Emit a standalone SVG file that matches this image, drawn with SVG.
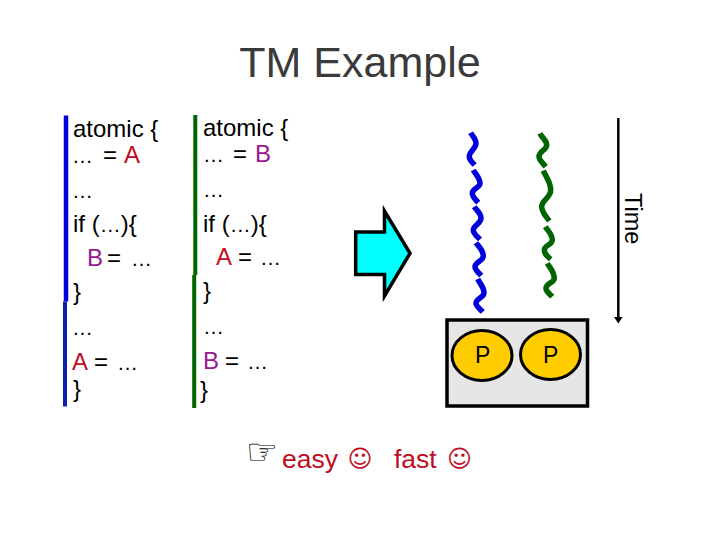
<svg xmlns="http://www.w3.org/2000/svg" width="720" height="540" viewBox="0 0 720 540">
<style>
text{font-family:"Liberation Sans",Arial,sans-serif;fill:#000}
.c{font-size:24px}
.d{font-size:21px}
.r{fill:#c00d1e}
.m{fill:#99188f}
.w{fill:none;stroke-width:5.5}
.b{stroke:#0000dd}
.g{stroke:#006400}
.s{font-family:"DejaVu Sans",sans-serif;font-size:24px;fill:#c00d1e}
.e{font-size:26.500px;fill:#c00d1e}
.p{font-size:23px;text-anchor:middle}
.n{fill:#ffcc00;stroke:#000;stroke-width:3}
</style>
<rect width="720" height="540" fill="#fff"/>
<text id="title" x="360" y="77" text-anchor="middle" font-size="43" style="fill:#3a3a3a">TM Example</text>
<g id="left-code">
<path d="M66 115.500V301.500" stroke="#0000dd" stroke-width="4.500"/>
<path d="M65 301.500V406.500" stroke="#0a1fb0" stroke-width="4"/>
<text class="c" x="73" y="137">atomic {</text>
<text class="c" y="163"><tspan class="d" x="72">…</tspan><tspan x="103">=</tspan><tspan class="r" x="124">A</tspan></text>
<text class="d" x="72" y="197.500">…</text>
<text class="c" x="73" y="232">if (<tspan class="d">…</tspan>){</text>
<text class="c" y="266"><tspan class="m" x="87">B</tspan><tspan x="107">=</tspan><tspan class="d" x="131">…</tspan></text>
<text class="c" x="73" y="300">}</text>
<text class="d" x="72" y="334.500">…</text>
<text class="c" y="370"><tspan class="r" x="72">A</tspan><tspan x="94">=</tspan><tspan class="d" x="117">…</tspan></text>
<text class="c" x="73" y="397">}</text>
</g>
<g id="right-code">
<path d="M195.300 115V275" stroke="#006400" stroke-width="4"/>
<path d="M194.200 275V408" stroke="#006400" stroke-width="4"/>
<text class="c" x="203" y="136">atomic {</text>
<text class="c" y="162"><tspan class="d" x="203">…</tspan><tspan x="233">=</tspan><tspan class="m" x="255">B</tspan></text>
<text class="d" x="203" y="196.500">…</text>
<text class="c" x="203" y="232">if (<tspan class="d">…</tspan>){</text>
<text class="c" y="265"><tspan class="r" x="216">A</tspan><tspan x="238">=</tspan><tspan class="d" x="260">…</tspan></text>
<text class="c" x="203" y="299">}</text>
<text class="d" x="203" y="334">…</text>
<text class="c" y="369"><tspan class="m" x="203">B</tspan><tspan x="225">=</tspan><tspan class="d" x="247">…</tspan></text>
<text class="c" x="200" y="398">}</text>
</g>
<g id="block-arrow">
<path d="M355.700 232H384.500V211L410 253.300L384.500 296V274.500H355.700Z" fill="#00ffff" stroke="#000" stroke-width="3.500"/>
</g>
<g id="threads">
<path class="w b" d="M470.700 132.700C473 137 476 139 476 143.300C476 149 469.300 151 469.300 156.700C469.300 160 472 162 474.700 165"/>
<path class="w b" d="M473.300 170C476 175 480 178 480 183.300C480 188 472.300 188 472.300 193.300C472.300 197 475 199 478.300 202.700"/>
<path class="w b" d="M474.300 206.700C477 211 481 213 481 218.300C481 224 473.300 225 473.300 230C473.300 234 477 236 480 239.300"/>
<path class="w b" d="M476 242.700C479 247 483.300 250 483.300 256C483.300 261 475 262 475 266.700C475 270 478 272 481.300 275.700"/>
<path class="w b" d="M477.700 279C480 284 484 287 484 292.700C484 298 476 298 476 303.300C476 306 479 308 482.700 312"/>
<path class="w g" d="M540 133.300C542 138 546.700 140 546.700 145C546.700 150 539 151 539 156.700C539 160 542 162 545.700 166.700"/>
<path class="w g" d="M543.300 170.700C546 177 550.700 182 550.700 190C550.700 198 541.700 200 541.700 206.700C541.700 212 545 215 549.300 221"/>
<path class="w g" d="M545.300 226.700C548 231 552.300 234 552.300 240C552.300 245 544.300 245 544.300 250C544.300 254 547 256 550.700 259.300"/>
<path class="w g" d="M547.300 263.300C550 268 554.300 272 554.300 278.300C554.300 283 546 283 546 288.300C546 292 549 293 552.300 296.700"/>
</g>
<g id="time-arrow">
<path d="M618.300 118V318" stroke="#000" stroke-width="2.500"/>
<path d="M614 317H622.600L618.300 323.500Z" fill="#000"/>
<text transform="translate(625 193) rotate(90)" font-size="23.500">Time</text>
</g>
<g id="processor-box">
<rect x="447" y="320" width="140.500" height="86" fill="#e6e6e6" stroke="#000" stroke-width="3.500"/>
</g>
<g id="p1">
<ellipse class="n" cx="482" cy="355.500" rx="30" ry="25"/>
<text class="p" x="482.700" y="363">P</text>
</g>
<g id="p2">
<ellipse class="n" cx="550.500" cy="354.500" rx="30" ry="25"/>
<text class="p" x="550.700" y="363">P</text>
</g>
<g id="summary">
<text x="246" y="464" style="font-family:'DejaVu Sans',sans-serif" font-size="36">☞</text>
<text class="e" x="282" y="468">easy</text>
<text class="s" x="347.500" y="467">☺</text>
<text class="e" x="394" y="468">fast</text>
<text class="s" x="447" y="467">☺</text>
</g>
</svg>
